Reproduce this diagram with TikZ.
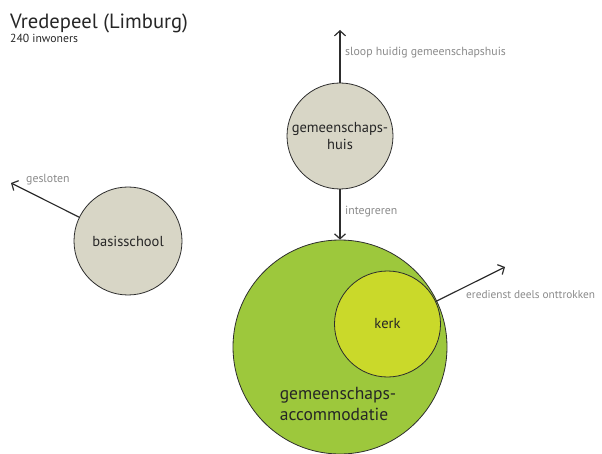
\documentclass[tikz,border=0pt]{standalone}
\usepackage{fontspec}
\setmainfont{PT Sans}
\usetikzlibrary{arrows.meta}
\definecolor{hgray}{RGB}{216,214,198}
\definecolor{hgreen}{RGB}{157,200,60}
\definecolor{hlime}{RGB}{202,217,42}
\definecolor{hline}{RGB}{45,45,45}
\definecolor{htext}{RGB}{138,138,138}
\begin{document}
\begin{tikzpicture}[x=1pt,y=-1pt,>={Straight Barb[length=5pt,width=11pt]},
	bol/.style={circle,draw=hline,line width=0.8pt,inner sep=0pt,text=black!85},
	pijl/.style={->,draw=hline,line width=1.2pt},
	notitie/.style={text=htext,font=\fontsize{11.8}{13}\selectfont,anchor=west,inner sep=0pt}]
		\useasboundingbox (0,0) rectangle (602,454);
		\node[anchor=base west,inner sep=0pt,text=black!85] (titel) at (10,29) {\fontsize{20.6}{24}\selectfont Vredepeel (Limburg)};
		\node[anchor=base west,inner sep=0pt,text=black!85] (inw) at (10,43) {\fontsize{11.7}{13}\selectfont 240 inwoners};
		\node[bol,fill=hgray,minimum size=106pt,font=\fontsize{14.5}{17}\selectfont,align=center] (huis) at (340,136) {gemeenschaps-\\huis};
		\node[bol,fill=hgray,minimum size=108pt,font=\fontsize{14.5}{17}\selectfont] (school) at (128,241) {basisschool};
		\node[bol,fill=hgreen,minimum size=214pt] (accom) at (340,347) {};
		\node[bol,fill=hlime,minimum size=106pt,font=\fontsize{14.5}{17}\selectfont] (kerk) at (387.5,324) {kerk};
		\node[text=black!85,font=\fontsize{17.5}{21}\selectfont,align=left] (accomtekst) at (338,404) {gemeenschaps-\\accommodatie};
		\coordinate (sloop) at (340,30);
		\coordinate (dicht) at (11,183);
		\coordinate (dienst) at (505,267);
		\draw[pijl] (huis.north) -- (sloop);
		\draw[pijl] (huis.south) -- (accom.north);
		\draw[pijl] (school.154) -- (dicht);
		\draw[pijl] (kerk.25) -- (dienst);
		\node[notitie] (sloopt) at (345,53) {sloop huidig gemeenschapshuis};
		\node[notitie] (integr) at (345,212) {integreren};
		\node[notitie] (geslt) at (26,180) {gesloten};
		\node[notitie,font=\fontsize{11.3}{13}\selectfont] (dienstt) at (466,295) {eredienst deels onttrokken};
	\end{tikzpicture}
\end{document}
